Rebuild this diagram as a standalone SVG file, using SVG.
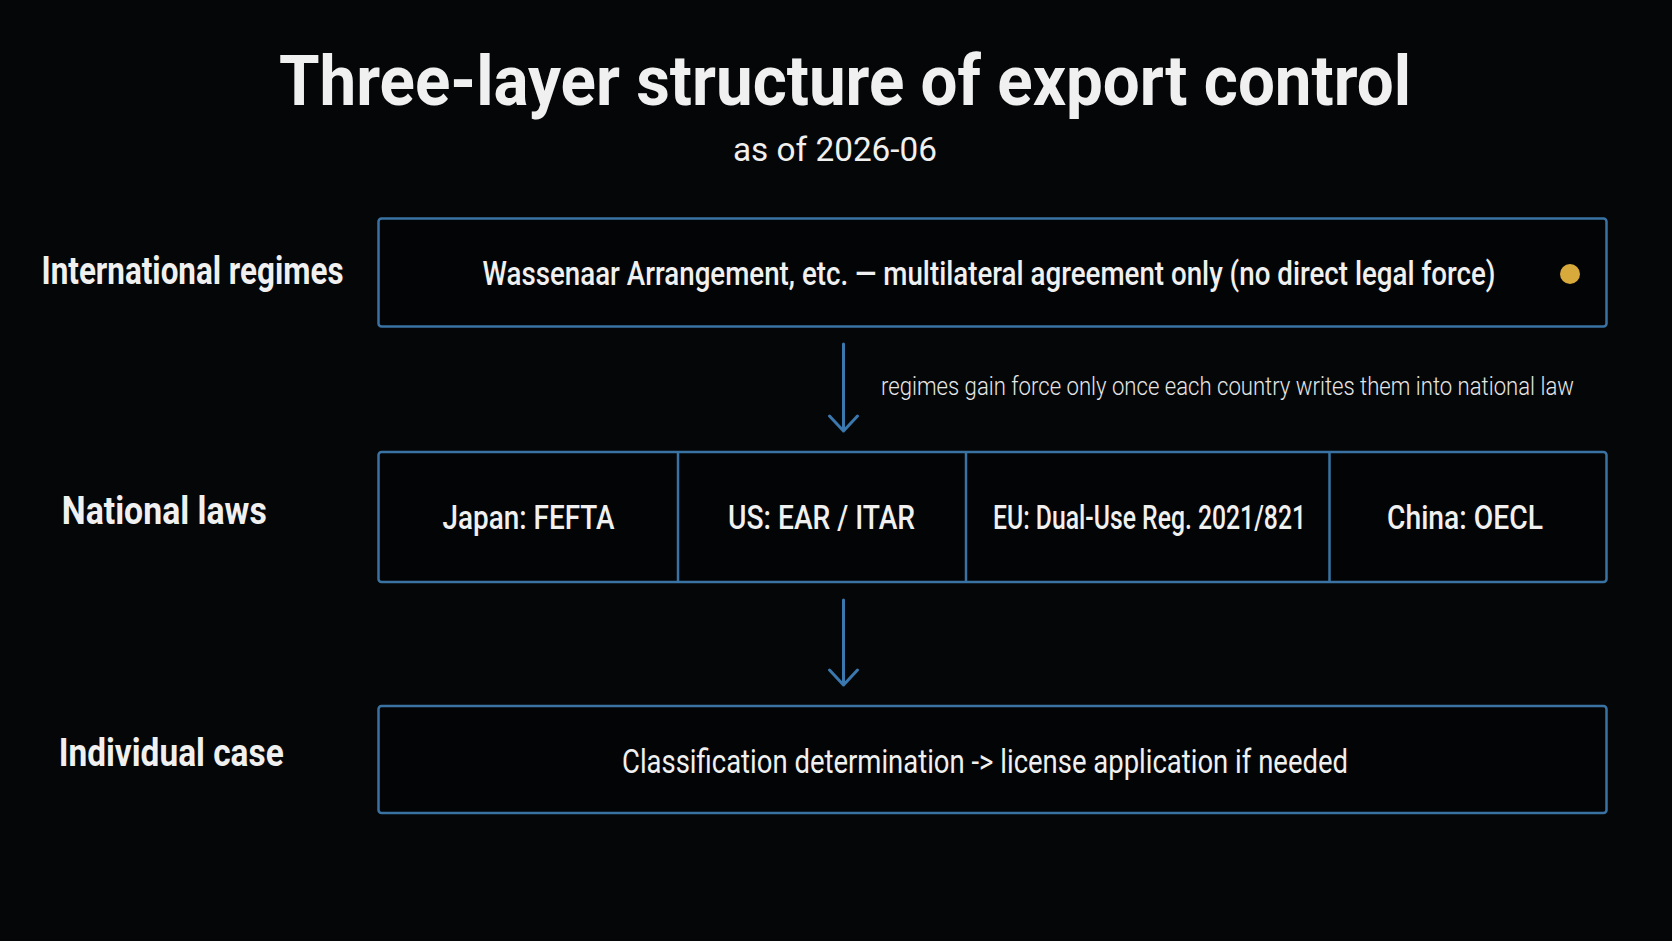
<svg xmlns="http://www.w3.org/2000/svg" width="1672" height="941" viewBox="0 0 1672 941">
<style>
text{font-family:Roboto,"Liberation Sans","DejaVu Sans",sans-serif;fill:#f0f0f0}
.title{font-size:70px;font-weight:700;text-anchor:middle}
.sub{font-size:33px;font-weight:400;text-anchor:middle}
.lab{font-size:39px;font-weight:700;text-anchor:middle}
.bt{font-size:33px;font-weight:500;text-anchor:middle}
.note{font-size:26px;font-weight:300;fill:#e6e6e6}
.box{fill:#030405;stroke:#3a73a3;stroke-width:2.5}
.div{stroke:#3a73a3;stroke-width:2.5}
.conn{stroke:#3a78ae;stroke-width:3;fill:none;stroke-linecap:round;stroke-linejoin:round}
</style>
<rect width="1672" height="941" fill="#050607"/>
<g id="title">
<text class="title" x="845" y="105" textLength="1132" lengthAdjust="spacingAndGlyphs">Three-layer structure of export control</text>
<text class="sub" x="835" y="161" textLength="204" lengthAdjust="spacingAndGlyphs">as of 2026-06</text>
</g>
<g id="labels">
<text class="lab" x="192.5" y="284" textLength="302" lengthAdjust="spacingAndGlyphs">International regimes</text>
<text class="lab" x="164.3" y="524" textLength="205" lengthAdjust="spacingAndGlyphs">National laws</text>
<text class="lab" x="171.2" y="766" textLength="225" lengthAdjust="spacingAndGlyphs">Individual case</text>
</g>
<g id="international">
<rect class="box" x="378.5" y="218.5" width="1228" height="108" rx="3"/>
<text class="bt" x="989" y="285" textLength="1013" lengthAdjust="spacingAndGlyphs">Wassenaar Arrangement, etc. — multilateral agreement only (no direct legal force)</text>
<circle cx="1570" cy="274" r="10" fill="#d8aa3c"/>
</g>
<g id="national">
<rect class="box" x="378.5" y="452" width="1228" height="130" rx="3"/>
<line class="div" x1="678" y1="452" x2="678" y2="582"/>
<line class="div" x1="966" y1="452" x2="966" y2="582"/>
<line class="div" x1="1329.5" y1="452" x2="1329.5" y2="582"/>
<text class="bt" x="528.5" y="529" textLength="172" lengthAdjust="spacingAndGlyphs">Japan: FEFTA</text>
<text class="bt" x="821.6" y="529" textLength="187" lengthAdjust="spacingAndGlyphs">US: EAR / ITAR</text>
<text class="bt" x="1149.5" y="529" textLength="313" lengthAdjust="spacingAndGlyphs">EU: Dual-Use Reg. 2021/821</text>
<text class="bt" x="1465" y="529" textLength="156" lengthAdjust="spacingAndGlyphs">China: OECL</text>
</g>
<g id="individual">
<rect class="box" x="378.5" y="706" width="1228" height="107" rx="3"/>
<text class="bt" style="font-weight:400" x="985" y="773" textLength="726" lengthAdjust="spacingAndGlyphs">Classification determination -&gt; license application if needed</text>
</g>
<g id="connectors">
<path class="conn" d="M843.5 344 V431 M829.5 416 L843.5 431 L857.5 416"/>
<text class="note" x="881" y="395" textLength="693" lengthAdjust="spacingAndGlyphs">regimes gain force only once each country writes them into national law</text>
<path class="conn" d="M843.5 600 V685 M829.5 670 L843.5 685 L857.5 670"/>
</g>
</svg>
